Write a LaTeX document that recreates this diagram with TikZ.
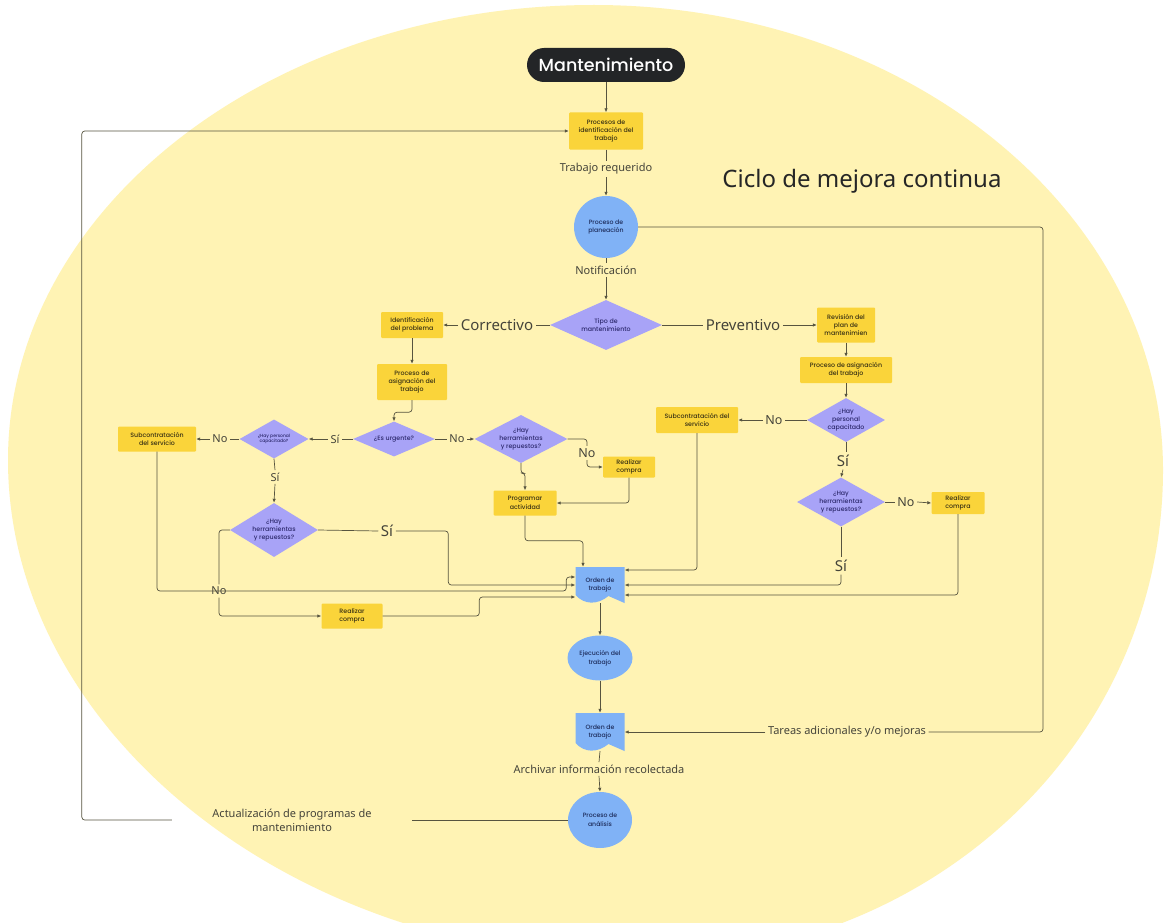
\documentclass[tikz,border=0pt]{standalone}
\usepackage{fontspec}
\usetikzlibrary{shapes.geometric, arrows.meta, calc}
\newfontfamily\popfont{Poppins Medium}
\newfontfamily\labfont{Noto Sans}
\definecolor{bgyellow}{HTML}{FFF3B4}
\definecolor{boxyellow}{HTML}{FAD43A}
\definecolor{nodeblue}{HTML}{80B2F6}
\definecolor{dialav}{HTML}{A8A3F7}
\definecolor{linecol}{HTML}{57543F}
\definecolor{labtext}{HTML}{45443A}
\definecolor{boxtext}{HTML}{3A3214}
\definecolor{bluetext}{HTML}{1E2D5C}
\definecolor{diatext}{HTML}{2E2A6E}
\definecolor{pilldark}{HTML}{232527}
\begin{document}
\begin{tikzpicture}[x=1pt, y=-1pt,
  conn/.style={draw=linecol, line width=0.7pt},
  arr/.style={conn, -{Latex[length=4pt,width=3.4pt]}},
  rc/.style={rounded corners=3pt},
  pill/.style={rectangle, rounded corners=17pt, fill=pilldark, text=white,
    font=\popfont\fontsize{17.5}{20}\selectfont},
  box/.style={rectangle, fill=boxyellow, rounded corners=1pt, align=center,
    text=boxtext, inner sep=0pt, font=\popfont\fontsize{6.3}{8.4}\selectfont},
  dia/.style={diamond, fill=dialav, aspect=1.8, inner sep=0pt, align=center,
    text=diatext, font=\popfont\fontsize{6.3}{8.2}\selectfont},
  circ/.style={ellipse, fill=nodeblue, inner sep=0pt, align=center,
    text=bluetext, font=\popfont\fontsize{6.2}{8.7}\selectfont},
  doc/.style={rectangle, inner sep=0pt, align=center, text=bluetext,
    font=\popfont\fontsize{6.2}{8.7}\selectfont,
    path picture={
      \fill[nodeblue] (path picture bounding box.north west)
        -- (path picture bounding box.north east)
        -- (path picture bounding box.south east)
        -- ($(path picture bounding box.south west)+(33pt,7pt)$)
        .. controls ($(path picture bounding box.south west)+(22pt,-2pt)$)
        and ($(path picture bounding box.south west)+(9pt,-2pt)$)
        .. ($(path picture bounding box.south west)+(0pt,8pt)$) -- cycle;}},
  lab/.style={font=\labfont\fontsize{11}{14}\selectfont, text=labtext, inner sep=2.5pt},
  labL/.style={lab, font=\labfont\fontsize{15}{18}\selectfont},
  labM/.style={lab, font=\labfont\fontsize{12.5}{15}\selectfont},
  labS/.style={lab, font=\labfont\fontsize{11}{13}\selectfont},
  title/.style={font=\labfont\fontsize{24}{28}\selectfont, text=black!85}
]
% canvas and the large egg-shaped yellow backdrop (four elliptic quarters)
\fill[white] (0,0) rectangle (1164,923);
\useasboundingbox (0,0) rectangle (1164,923);
\fill[bgyellow] (594,5) .. controls (908,5) and (1163,213) .. (1163,470)
  .. controls (1163,740) and (935,960) .. (640,960)
  .. controls (291,960) and (8,731) .. (8,460)
  .. controls (8,209) and (270,5) .. (594,5) -- cycle;

% main column
\node[pill, minimum width=158, minimum height=34] (mant) at (606,65) {Mantenimiento};
\node[box, minimum width=74, minimum height=37] (idt) at (606,131) {Procesos de\\identificación del\\trabajo};
\node[lab] (treq) at (606,169) {Trabajo requerido};
\node[circ, minimum width=64, minimum height=62] (plan) at (606,227) {Proceso de\\planeación};
\node[lab] (noti) at (606,270) {Notificación};
\node[dia, minimum width=112, minimum height=50] (tipo) at (606,325) {Tipo de\\mantenimiento};
\node[labL] (corr) at (497,325) {Correctivo};
\node[labL] (prev) at (743,325) {Preventivo};
\node[title] (ciclo) at (862,181) {Ciclo de mejora continua};

% preventive branch
\node[box, minimum width=58, minimum height=35] (rev) at (846,325) {Revisión del\\plan de\\mantenimien};
\node[box, minimum width=92, minimum height=26] (asR) at (846,370) {Proceso de asignación\\del trabajo};
\node[dia, minimum width=78, minimum height=44] (pcR) at (846,420) {¿Hay\\personal\\capacitado};
\node[labM] (noR1) at (774,420) {No};
\node[box, minimum width=82, minimum height=26] (subR) at (697,420) {Subcontratación del\\servicio};
\node[labL] (siR1) at (843,461) {Sí};
\node[dia, minimum width=88, minimum height=49] (hrR) at (841,502) {¿Hay\\herramientas\\y repuestos?};
\node[labM] (noR2) at (906,502) {No};
\node[box, minimum width=53, minimum height=22] (rcR) at (958,503) {Realizar\\compra};
\node[labL] (siR2) at (841,566) {Sí};

% corrective branch
\node[box, minimum width=62, minimum height=26] (idp) at (412,325) {Identificación\\del problema};
\node[box, minimum width=70, minimum height=36] (asL) at (412,382) {Proceso de\\asignación del\\trabajo};
\node[dia, minimum width=82, minimum height=35] (urg) at (394,439) {¿Es urgente?};
\node[labS] (siL1) at (335,439) {Sí};
\node[dia, minimum width=69, minimum height=39, font=\popfont\fontsize{4.5}{5.2}\selectfont] (pcL) at (274,439) {¿Hay personal\\capacitado?};
\node[labS] (noL1) at (220,439) {No};
\node[box, minimum width=78, minimum height=25] (subL) at (157,439) {Subcontratación\\del servicio};
\node[labS] (siL2) at (275,477) {Sí};
\node[dia, minimum width=88, minimum height=54] (hrL) at (274,530) {¿Hay\\herramientas\\y repuestos?};
\node[labL] (siL3) at (387,531) {Sí};
\node[labS] (noL2) at (219,591) {No};
\node[box, minimum width=61, minimum height=25] (rcL) at (352,616) {Realizar\\compra};
\node[labS] (noM1) at (457,439) {No};
\node[dia, minimum width=93, minimum height=48] (hrM) at (521,439) {¿Hay\\herramientas\\y repuestos?};
\node[labM] (noM2) at (587,453) {No};
\node[box, minimum width=52, minimum height=21] (rcM) at (629,467) {Realizar\\compra};
\node[box, minimum width=63, minimum height=25] (prog) at (525,503) {Programar\\actividad};

% execution and feedback
\node[doc, minimum width=49, minimum height=36] (ord) at (600,585) {Orden de\\trabajo};
\node[circ, minimum width=65, minimum height=45] (eje) at (600,658) {Ejecución del\\trabajo};
\node[doc, minimum width=49, minimum height=38] (ord2) at (600,732) {Orden de\\trabajo};
\node[lab] (tar) at (847,732) {Tareas adicionales y/o mejoras};
\node[lab] (arc) at (599,769) {Archivar información recolectada};
\node[circ, minimum width=64, minimum height=56] (ana) at (600,820) {Proceso de\\análisis};
\node[lab, align=center, minimum width=240] (act) at (292,820) {Actualización de programas de\\mantenimiento};
\coordinate (cr) at (1043,732);

% connectors: main column
\draw[arr] (mant.south) -- (idt.north);
\draw[conn] (idt.south) -- (treq.north);
\draw[arr] (treq.south) -- (plan.north);
\draw[conn] (plan.south) -- (noti.north);
\draw[arr] (noti.south) -- (tipo.north);
\draw[conn] (tipo.west) -- (corr.east);
\draw[arr] (corr.west) -- (idp.east);
\draw[conn] (tipo.east) -- (prev.west);
\draw[arr] (prev.east) -- (rev.west);

% connectors: preventive branch
\draw[arr] (rev.south) -- (asR.north);
\draw[arr] (asR.south) -- (pcR.north);
\draw[conn] (pcR.west) -- (noR1.east);
\draw[arr] (noR1.west) -- (subR.east);
\draw[conn] (pcR.south) -- (pcR.south |- siR1.north);
\draw[arr] (siR1.south) -- (hrR.north);
\draw[conn] (hrR.east) -- (noR2.west);
\draw[arr] (noR2.east) -- (rcR.west);
\draw[conn] (hrR.south) -- (siR2.north);
\draw[arr, rc] (siR2.south) |- (ord.east);
\draw[arr, rc] (subR.south) |- ([yshift=15pt]ord.east);
\draw[arr, rc] (rcR.south) |- ([yshift=-10pt]ord.east);

% connectors: corrective branch
\draw[arr] (idp.south) -- (asL.north);
\draw[arr, rc] (asL.south) -- ++(0,12) -| (urg.north);
\draw[conn] (urg.west) -- (siL1.east);
\draw[arr] (siL1.west) -- (pcL.east);
\draw[conn] (pcL.west) -- (noL1.east);
\draw[arr] (noL1.west) -- (subL.east);
\draw[conn] (pcL.south) -- (siL2.north);
\draw[arr] (siL2.south) -- (hrL.north);
\draw[conn] (hrL.east) -- (siL3.west);
\draw[arr, rc] (siL3.east) -| ([xshift=-127pt]ord.west) -- (ord.west);
\draw[conn, rc] (hrL.west) -| (noL2.north);
\draw[arr, rc] (noL2.south) |- (rcL.west);
\draw[arr, rc] (rcL.east) -| ([xshift=-96pt,yshift=-12pt]ord.west) -- ([yshift=-12pt]ord.west);
\draw[arr, rc] (subL.south) |- ([xshift=-9pt,yshift=-6pt]ord.west) -- ([xshift=-9pt,yshift=8pt]ord.west) -- ([yshift=8pt]ord.west);
\draw[conn] (urg.east) -- (noM1.west);
\draw[arr] (noM1.east) -- (hrM.west);
\draw[conn, rc] (hrM.east) -| (noM2.north);
\draw[arr, rc] (noM2.south) |- (rcM.west);
\draw[arr, rc] (hrM.south) -- ++(0,10) -| (prog.north);
\draw[arr, rc] (rcM.south) |- (prog.east);
\draw[arr, rc] (prog.south) |- ([xshift=-17pt,yshift=26pt]ord.north) -- ([xshift=-17pt]ord.north);

% connectors: execution and feedback loops
\draw[arr] (ord.south) -- (eje.north);
\draw[arr] (eje.south) -- (ord2.north);
\draw[conn] (ord2.south) -- (arc.north);
\draw[arr] (arc.south) -- (ana.north);
\draw[conn, rc] (plan.east) -| (cr) -- (tar.east);
\draw[arr] (tar.west) -- (ord2.east);
\draw[conn] (ana.west) -- (act.east);
\draw[arr, rc] (act.west) -- ++(-90,0) |- (idt.west);
\end{tikzpicture}
\end{document}
